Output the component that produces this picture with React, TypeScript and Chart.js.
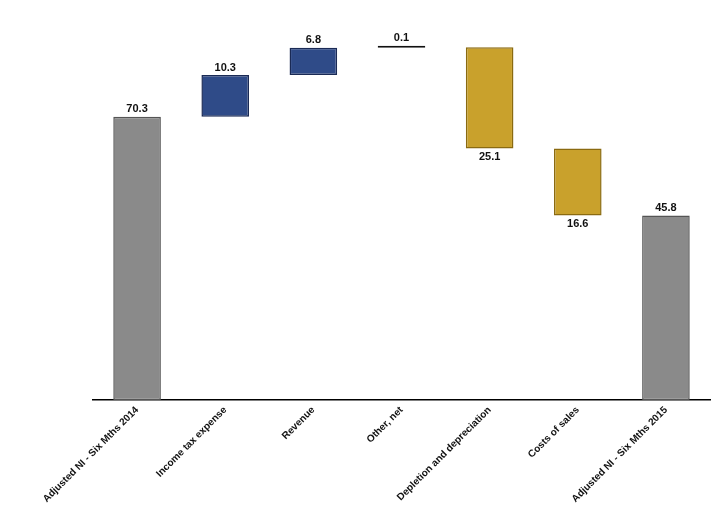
import React, { useEffect, useRef } from "react";
import { Chart, registerables } from "chart.js";
Chart.register(...registerables);

const categories = ["Adjusted NI - Six Mths 2014", "Income tax expense", "Revenue", "Other, net", "Depletion and depreciation", "Costs of sales", "Adjusted NI - Six Mths 2015"];
const starts = [0, 70.3, 80.6, 87.4, 87.5, 62.4, 0];
const ends = [70.3, 80.6, 87.4, 87.5, 62.4, 45.8, 45.8];
const labels = ["70.3", "10.3", "6.8", "0.1", "25.1", "16.6", "45.8"];
const fills = ["#8a8a8a", "#2f4b88", "#2f4b88", "#2f4b88", "#c9a12c", "#c9a12c", "#8a8a8a"];
const borders = ["#555555", "#1a2a55", "#1a2a55", "#111111", "#8a6a10", "#8a6a10", "#555555"];

export default function App() {
  const ref = useRef<HTMLCanvasElement>(null);
  useEffect(() => {
    const labelPlugin = {
      id: "vals",
      afterDatasetsDraw(chart: any) {
        const ctx = chart.ctx;
        const meta = chart.getDatasetMeta(0);
        ctx.save();
        ctx.font = "bold 11px Arial, 'Liberation Sans'";
        ctx.fillStyle = "#111";
        ctx.textAlign = "center";
        meta.data.forEach((el: any, i: number) => {
          const up = ends[i] >= starts[i];
          const top = Math.min(el.y, el.base);
          const bot = Math.max(el.y, el.base);
          if (up) { ctx.textBaseline = "bottom"; ctx.fillText(labels[i], el.x, top - 2); }
          else { ctx.textBaseline = "top"; ctx.fillText(labels[i], el.x, bot + 3); }
        });
        ctx.restore();
      },
    };
    const c = new Chart(ref.current!, {
      type: "bar",
      data: {
        labels: categories,
        datasets: [{
          data: starts.map((s, i) => [s, ends[i]]) as any,
          backgroundColor: fills,
          borderColor: borders,
          borderWidth: 1.5,
          borderSkipped: false,
          barPercentage: 0.54,
          categoryPercentage: 1,
          minBarLength: 2,
        }],
      },
      options: {
        animation: false,
        responsive: false,
        layout: { padding: { top: 17, left: 93, right: 10, bottom: 8 } },
        plugins: { legend: { display: false }, tooltip: { enabled: false } },
        scales: {
          y: { display: false, min: 0, max: 95 },
          x: {
            grid: { display: false, drawTicks: false },
            border: { color: "#000", width: 1.5 },
            ticks: {
              maxRotation: 45, minRotation: 45, color: "#111", padding: 4,
              font: { family: "Arial, 'Liberation Sans'", weight: "bold", size: 10 },
            },
          },
        },
      },
      plugins: [labelPlugin],
    });
    return () => c.destroy();
  }, []);
  return (
    <div style={{ position: "fixed", left: 0, top: 0, width: 720, height: 517, background: "#fff" }}>
      <canvas ref={ref} width={720} height={517} />
    </div>
  );
}
